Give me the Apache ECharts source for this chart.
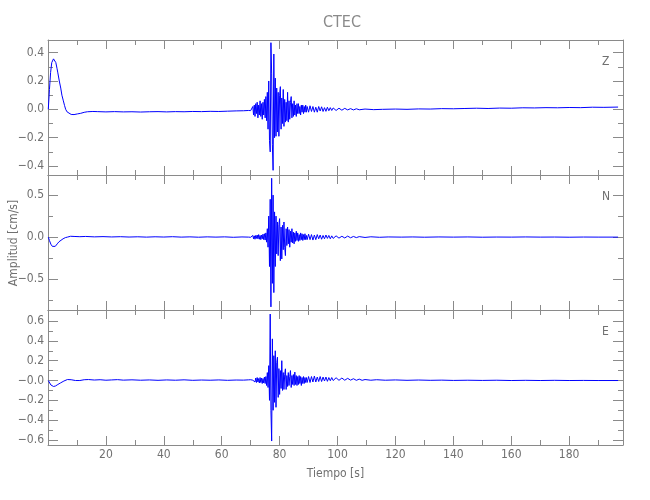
<!DOCTYPE html>
<html>
<head>
<meta charset="utf-8">
<script src="https://cdn.jsdelivr.net/npm/echarts@6/dist/echarts.min.js"></script>
<style>
html,body{margin:0;padding:0;background:#fff;}
#chart{width:650px;height:500px;}
</style>
</head>
<body>
<div id="chart"></div>
<script>
// ---------------- DATA ----------------
const stationName = 'CTEC';
const componentNames = ['Z', 'N', 'E'];
const timeRange = [0, 198.6];
const xLabelTicks = [20, 40, 60, 80, 100, 120, 140, 160, 180];
const xMinorTicks = [10, 30, 50, 70, 90, 110, 130, 150, 170, 190];
const yRangeZ = [-0.463, 0.489];
const yRangeN = [-0.867, 0.739];
const yRangeE = [-0.65, 0.711];
const yMajorZ = [-0.4, -0.2, 0, 0.2, 0.4];
const yMinorZ = [-0.3, -0.1, 0.1, 0.3];
const yLabelsZ = ['\u22120.4', '\u22120.2', '0.0', '0.2', '0.4'];
const yMajorN = [-0.5, 0, 0.5];
const yMinorN = [-0.75, -0.25, 0.25];
const yLabelsN = ['\u22120.5', '0.0', '0.5'];
const yMajorE = [-0.6, -0.4, -0.2, 0, 0.2, 0.4, 0.6];
const yMinorE = [-0.5, -0.3, -0.1, 0.1, 0.3, 0.5];
const yLabelsE = ['\u22120.6', '\u22120.4', '\u22120.2', '\u22120.0', '0.2', '0.4', '0.6'];
// pre-event part [time s, amplitude cm/s]
const zBase = [[0.1,0.0],[0.5,0.14],[0.9,0.26],[1.3,0.33],[1.9,0.356],[2.4,0.345],[2.7,0.33],[3.1,0.29],[3.4,0.257],[3.9,0.2],[4.4,0.15],[4.8,0.1],[5.3,0.06],[5.7,0.028],[6.1,0.0],[6.6,-0.018],[7.2,-0.03],[8.0,-0.036],[9.0,-0.037],[10.2,-0.032],[11.3,-0.028],[12.5,-0.021],[13.6,-0.017],[15.5,-0.015],[17,-0.016],[20,-0.018],[23,-0.016],[26,-0.018],[29,-0.017],[32,-0.019],[35,-0.017],[38,-0.016],[41,-0.018],[44,-0.016],[47,-0.017],[50,-0.015],[53,-0.016],[56,-0.014],[59,-0.015],[62,-0.013],[65,-0.011],[67.5,-0.01],[69.3,-0.008]];
const nBase = [[0.1,0.0],[0.5,-0.04],[1.0,-0.085],[1.5,-0.11],[1.9,-0.12],[2.5,-0.11],[3.2,-0.08],[3.8,-0.055],[4.4,-0.04],[5.2,-0.02],[6.0,-0.006],[6.7,0.0],[7.8,0.01],[9,0.008],[11,0.005],[13,0.008],[16,0.003],[19,0.006],[22,0.002],[25,0.005],[28,0.001],[31,0.004],[34,0.0],[37,0.004],[40,0.001],[43,0.005],[46,0.0],[49,0.003],[52,-0.001],[55,0.003],[58,0.0],[61,0.003],[64,-0.002],[67,0.002],[69.3,0.0]];
const eBase = [[0.1,0.0],[0.5,-0.02],[1.0,-0.045],[1.5,-0.057],[1.9,-0.06],[2.6,-0.055],[3.4,-0.04],[4.4,-0.023],[5.5,-0.005],[6.7,0.01],[8,0.008],[9.5,0.0],[11,0.0],[12.5,0.008],[14,0.01],[16,0.005],[18,0.008],[20,0.003],[22,0.006],[24,0.009],[26,0.004],[29,0.007],[32,0.003],[35,0.006],[38,0.002],[41,0.006],[44,0.003],[47,0.007],[50,0.002],[53,0.005],[56,0.003],[59,0.006],[62,0.002],[65,0.005],[67.5,0.004],[69.3,0.007]];
// strong-motion part, samples every 0.25 s starting at 69.5 s
const burstStart = 69.5;
const burstStep = 0.25;
const zBurst = [-0.008,-0.006,-0.009,-0.005,-0.010,0.02,-0.04,0.03,-0.05,0.04,-0.03,0.05,-0.06,0.03,-0.04,0.06,-0.05,0.04,-0.07,0.05,-0.04,0.07,-0.06,0.09,-0.08,0.12,-0.14,0.20,-0.22,-0.30,0.47,0.25,-0.25,-0.43,0.39,-0.20,0.22,-0.19,0.15,-0.16,0.12,-0.19,0.10,0.16,-0.14,0.08,-0.10,0.14,-0.12,0.07,-0.09,0.05,-0.08,0.12,-0.09,0.06,-0.07,0.05,0.09,-0.06,0.04,-0.05,0.06,-0.04,0.03,-0.05,0.04,-0.03,0.04,-0.03,0.02,-0.04,0.03,-0.02,0.03,-0.03,0.02,-0.02,0.03,-0.02,0.02];
const nBurst = [0.000,0.003,-0.002,0.004,-0.003,0.02,-0.02,0.015,-0.025,0.02,-0.015,0.025,-0.02,0.03,-0.025,0.02,-0.03,0.025,-0.02,0.035,-0.03,0.04,-0.035,0.05,-0.06,0.10,-0.12,0.25,-0.35,0.45,-0.83,0.70,-0.55,0.50,-0.66,0.30,-0.35,0.25,-0.20,0.18,-0.22,0.15,0.22,-0.28,0.12,-0.26,0.14,-0.15,0.18,-0.12,-0.22,0.10,-0.10,0.12,-0.08,0.09,-0.12,0.07,-0.06,0.10,-0.07,0.06,-0.08,0.05,-0.05,0.07,-0.04,0.05,-0.05,0.03,-0.04,0.05,-0.03,0.04,-0.04,0.03,-0.03,0.04,-0.03,0.02,-0.03];
const eBurst = [0.007,0.004,0.008,0.005,0.006,0.003,0.009,0.02,-0.015,0.025,-0.02,0.03,-0.015,0.02,-0.025,0.03,-0.02,0.025,-0.03,0.02,-0.025,0.035,-0.03,0.04,-0.05,0.08,-0.07,0.15,-0.20,0.67,-0.30,-0.61,0.42,-0.30,0.25,-0.22,0.30,-0.27,0.18,0.235,-0.17,0.12,-0.14,0.10,-0.08,0.20,-0.10,0.08,-0.09,0.06,0.118,-0.09,0.05,-0.06,0.08,-0.05,0.04,0.10,-0.07,0.05,-0.04,0.06,-0.05,0.085,-0.04,0.05,-0.05,0.04,-0.04,0.05,-0.03,0.04,-0.05,0.03,-0.03,0.04,-0.03,0.03,-0.02,0.03,-0.02];
// coda and tail [time s, amplitude cm/s]
const zCoda = [[90,-0.02],[90.5,0.025],[91,-0.015],[91.5,0.02],[92,-0.02],[92.5,0.015],[93,-0.02],[93.5,0.02],[94,-0.012],[94.5,0.018],[95,-0.015],[95.5,0.012],[96,-0.014],[96.5,0.015],[97,-0.01],[97.5,0.012],[98,-0.008],[98.5,0.01],[99.5,-0.008],[100.5,0.008],[101.5,-0.006],[102.5,0.007],[103.5,-0.004],[104.5,0.005],[105.5,-0.004],[106.5,0.004],[107.5,-0.003],[109.5,0.002],[112.5,-0.002],[115.5,0.0],[120,0.002],[124,0.0],[128,0.003],[132,0.002],[136,0.005],[140,0.004],[144,0.006],[148,0.008],[152,0.006],[156,0.009],[160,0.008],[164,0.011],[168,0.01],[172,0.012],[176,0.011],[180,0.013],[184,0.012],[188,0.015],[192,0.014],[196.9,0.016]];
const nCoda = [[90,0.035],[90.5,-0.03],[91,0.03],[91.5,-0.035],[92,0.025],[92.5,-0.03],[93,0.03],[93.5,-0.02],[94,0.025],[94.5,-0.025],[95,0.02],[95.5,-0.02],[96,0.025],[96.5,-0.015],[97,0.02],[97.5,-0.02],[98,0.015],[98.5,-0.015],[99.5,0.015],[100.5,-0.012],[101.5,0.01],[102.5,-0.01],[103.5,0.012],[104.5,-0.008],[105.5,0.008],[106.5,-0.006],[107.5,0.006],[109.5,-0.004],[111.5,0.004],[114.5,-0.002],[117.5,0.002],[122,0.0],[126,0.002],[130,-0.001],[135,0.002],[140,0.0],[145,0.002],[150,-0.001],[155,0.001],[160,0.0],[165,0.002],[170,0.0],[175,0.001],[180,-0.001],[185,0.001],[190,0.0],[196.9,0.0]];
const eCoda = [[90,0.04],[90.5,-0.02],[91,0.04],[91.5,-0.015],[92,0.045],[92.5,-0.015],[93,0.035],[93.5,-0.01],[94,0.04],[94.5,-0.01],[95,0.035],[95.5,-0.005],[96,0.035],[96.5,-0.008],[97,0.03],[97.5,-0.002],[98,0.03],[98.5,0.0],[99.5,0.028],[100.5,0.002],[101.5,0.025],[102.5,0.003],[103.5,0.022],[104.5,0.004],[105.5,0.018],[106.5,0.002],[107.5,0.014],[108.5,0.002],[109.5,0.01],[111.5,0.003],[113.5,0.008],[116.5,0.003],[120,0.006],[124,0.002],[128,0.005],[132,0.002],[136,0.004],[140,0.001],[145,0.003],[150,0.001],[155,0.003],[160,0.0],[165,0.002],[170,0.0],[175,0.002],[180,0.0],[185,0.001],[190,0.0],[196.9,0.0]];
const xAxisTitle = 'Tiempo [s]';
const yAxisTitle = 'Amplitud [cm/s]';

// ---------------- BUILD ----------------
function trace(base, burst, coda) {
  const out = base.slice();
  burst.forEach((v, i) => out.push([burstStart + i * burstStep, v]));
  return out.concat(coda);
}
const panels = [
  { range: yRangeZ, major: yMajorZ, minor: yMinorZ, labels: yLabelsZ, data: trace(zBase, zBurst, zCoda) },
  { range: yRangeN, major: yMajorN, minor: yMinorN, labels: yLabelsN, data: trace(nBase, nBurst, nCoda) },
  { range: yRangeE, major: yMajorE, minor: yMinorE, labels: yLabelsE, data: trace(eBase, eBurst, eCoda) }
];
const FONT = "'Liberation Sans Narrow', 'DejaVu Sans Condensed', 'Liberation Sans', sans-serif";
const AXC = '#8a8a8a';
const TXC = '#707070';
const gridTops = [40, 175, 310];
const gridH = 135;
const grids = [], xAxes = [], yAxes = [], series = [], graphics = [];
panels.forEach((p, gi) => {
  grids.push({ left: 48, width: 575, top: gridTops[gi], height: gridH, containLabel: false, outerBoundsMode: 'none' });
  const isBottom = gi === panels.length - 1;
  const xBase = () => ({ gridIndex: gi, type: 'value', min: timeRange[0], max: timeRange[1], splitLine: { show: false } });
  const tickStyle = { color: AXC, width: 1 };
  xAxes.push(Object.assign(xBase(), {
    position: 'bottom',
    axisLine: { show: true, onZero: false, lineStyle: { color: AXC } },
    axisTick: { show: true, inside: true, length: 9, customValues: xLabelTicks, lineStyle: tickStyle },
    axisLabel: { show: isBottom, customValues: xLabelTicks, margin: 4, color: TXC, fontFamily: FONT, fontSize: 12 },
    name: isBottom ? xAxisTitle : '', nameLocation: 'middle', nameGap: 23,
    nameTextStyle: { color: TXC, fontFamily: FONT, fontSize: 12 }
  }));
  xAxes.push(Object.assign(xBase(), { position: 'bottom', axisLine: { show: false, onZero: false },
    axisTick: { show: true, inside: true, length: 5, customValues: xMinorTicks, lineStyle: tickStyle }, axisLabel: { show: false } }));
  xAxes.push(Object.assign(xBase(), { position: 'top', axisLine: { show: true, onZero: false, lineStyle: { color: AXC } },
    axisTick: { show: true, inside: true, length: 9, customValues: xLabelTicks, lineStyle: tickStyle }, axisLabel: { show: false } }));
  xAxes.push(Object.assign(xBase(), { position: 'top', axisLine: { show: false, onZero: false },
    axisTick: { show: true, inside: true, length: 5, customValues: xMinorTicks, lineStyle: tickStyle }, axisLabel: { show: false } }));
  const yBase = () => ({ gridIndex: gi, type: 'value', min: p.range[0], max: p.range[1], splitLine: { show: false } });
  const fmt = (v) => { let k = -1, best = 1e9; p.major.forEach((m, i) => { const d = Math.abs(m - v); if (d < best) { best = d; k = i; } }); return k >= 0 ? p.labels[k] : ''; };
  yAxes.push(Object.assign(yBase(), { position: 'left', axisLine: { show: true, onZero: false, lineStyle: { color: AXC } },
    axisTick: { show: true, inside: true, length: 10, customValues: p.major, lineStyle: tickStyle },
    axisLabel: { show: true, customValues: p.major, formatter: fmt, margin: 4, color: TXC, fontFamily: FONT, fontSize: 12 } }));
  yAxes.push(Object.assign(yBase(), { position: 'left', axisLine: { show: false, onZero: false },
    axisTick: { show: true, inside: true, length: 5, customValues: p.minor, lineStyle: tickStyle }, axisLabel: { show: false } }));
  yAxes.push(Object.assign(yBase(), { position: 'right', axisLine: { show: true, onZero: false, lineStyle: { color: AXC } },
    axisTick: { show: true, inside: true, length: 10, customValues: p.major, lineStyle: tickStyle }, axisLabel: { show: false } }));
  yAxes.push(Object.assign(yBase(), { position: 'right', axisLine: { show: false, onZero: false },
    axisTick: { show: true, inside: true, length: 5, customValues: p.minor, lineStyle: tickStyle }, axisLabel: { show: false } }));
  series.push({ type: 'line', name: componentNames[gi], xAxisIndex: gi * 4, yAxisIndex: gi * 4,
    data: p.data, showSymbol: false, symbol: 'none', sampling: null, smooth: false, clip: true,
    lineStyle: { color: '#0000ff', width: 1 }, silent: true });
  graphics.push({ type: 'text', left: 602, top: gridTops[gi] + 16, style: { text: componentNames[gi], fill: TXC, font: '12px ' + FONT } });
});
graphics.push({ type: 'text', x: 14, y: 243, rotation: Math.PI / 2,
  style: { text: yAxisTitle, fill: TXC, font: '12px ' + FONT, align: 'center', verticalAlign: 'middle' } });
const chart = echarts.init(document.getElementById('chart'), null, { renderer: 'canvas' });
chart.setOption({
  animation: false, backgroundColor: '#ffffff',
  title: { text: stationName, left: 337, top: 10, textAlign: 'center', textStyle: { color: '#8a8a8a', fontFamily: FONT, fontSize: 16, fontWeight: 'normal' } },
  grid: grids, xAxis: xAxes, yAxis: yAxes, series: series, graphic: graphics
});
</script>
</body>
</html>
